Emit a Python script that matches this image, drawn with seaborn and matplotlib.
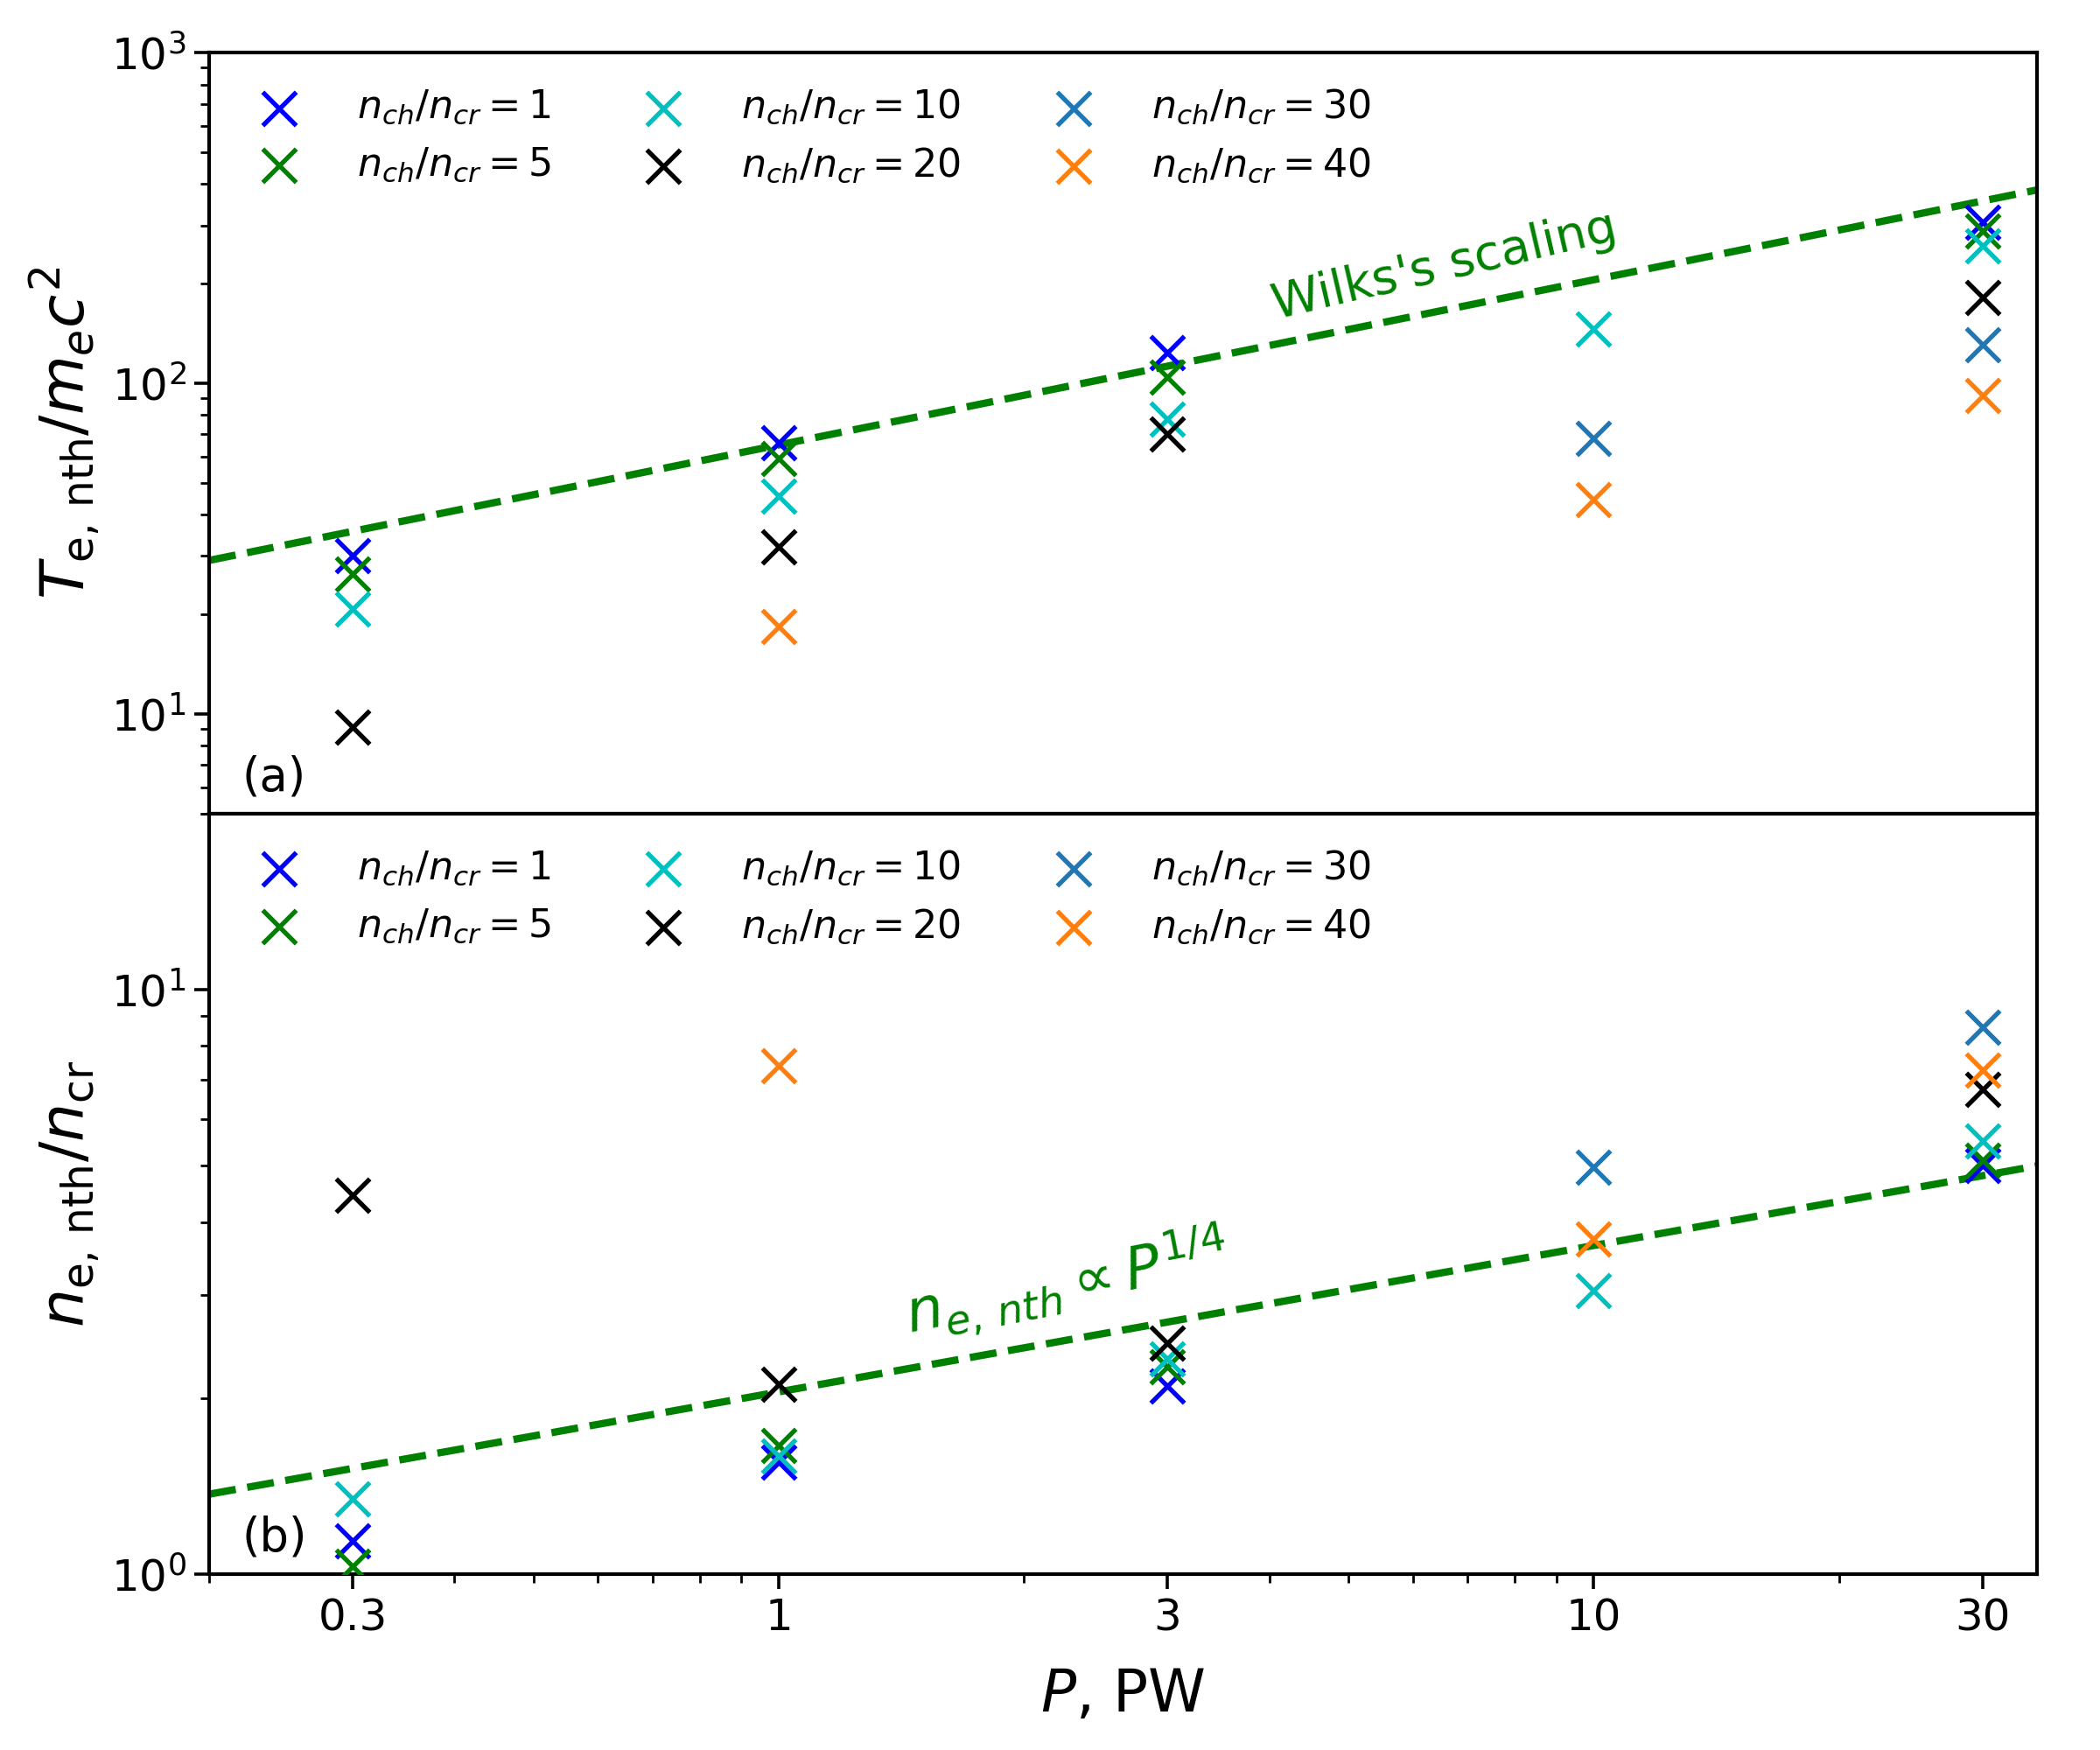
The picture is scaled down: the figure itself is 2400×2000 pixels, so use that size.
import numpy as np
import pandas as pd
import seaborn as sns
import matplotlib.pyplot as plt
from matplotlib.ticker import NullFormatter, FixedLocator, FixedFormatter

# power, PW
p_vals = [0.3, 1, 3, 10, 30]
density_labels = [1, 5, 10, 20, 30, 40]
colors = ["b", "g", "c", "k", "tab:blue", "tab:orange"]

# (P, value) pairs per n_ch/n_cr ; panel (a): T_e,nth / m_e c^2
temp_p = {
    1: [0.3, 1, 3, 30],
    5: [0.3, 1, 3, 30],
    10: [0.3, 1, 3, 10, 30],
    20: [0.3, 1, 3, 30],
    30: [10, 30],
    40: [1, 10, 30],
}
temp_v = {
    1: [30, 66, 124, 307],
    5: [26.5, 59, 104, 288],
    10: [20.8, 45.5, 78, 146, 260],
    20: [9.1, 32, 70, 182],
    30: [68, 131],
    40: [18.4, 44.5, 92],
}

# panel (b): n_e,nth / n_cr
dens_p = {
    1: [0.3, 1, 3, 30],
    5: [0.3, 1, 3, 30],
    10: [0.3, 1, 3, 10, 30],
    20: [0.3, 1, 3, 30],
    30: [10, 30],
    40: [1, 10, 30],
}
dens_v = {
    1: [1.14, 1.555, 2.1, 5.0],
    5: [1.03, 1.66, 2.26, 5.1],
    10: [1.345, 1.59, 2.33, 3.05, 5.5],
    20: [4.45, 2.11, 2.48, 6.75],
    30: [4.96, 8.6],
    40: [7.4, 3.74, 7.28],
}

# scaling lines (end points)
line_p = [0.2, 35]
wilks_t = [29.1, 384]
quarter_n = [1.37, 4.99]

sns.set_style("ticks")
plt.rcParams.update({
    "font.family": ["DejaVu Sans"],
    "mathtext.fontset": "dejavusans",
    "axes.edgecolor": "black",
    "axes.labelcolor": "black",
    "text.color": "black",
    "xtick.color": "black",
    "ytick.color": "black",
    "axes.linewidth": 1.5,
})

fig, (ax1, ax2) = plt.subplots(2, 1, sharex=True, figsize=(12, 10), dpi=200)
fig.subplots_adjust(left=0.0996, right=0.970, top=0.970, bottom=0.1005, hspace=0)

for ax, px, vals, line_v in [(ax1, temp_p, temp_v, wilks_t), (ax2, dens_p, dens_v, quarter_n)]:
    ax.set_xscale("log")
    ax.set_yscale("log")
    for n, c in zip(density_labels, colors):
        df = pd.DataFrame({"P": px[n], "v": vals[n]})
        sns.scatterplot(data=df, x="P", y="v", ax=ax, marker="x", color=c,
                        s=190, linewidth=1.9, label=r"$n_{ch}/n_{cr} = %d$" % n,
                        zorder=3)
    sns.lineplot(x=line_p, y=line_v, ax=ax, color="green", linestyle="--",
                 linewidth=3, zorder=2)
    ax.legend(loc="upper left", ncol=3, frameon=False, fontsize=16,
              handlelength=1.8, handletextpad=1.1, columnspacing=2.0,
              borderaxespad=0.5, scatterpoints=1)
    ax.tick_params(which="major", labelsize=18, length=6, width=1.3)
    ax.tick_params(which="minor", length=3.5, width=1.0)
    ax.yaxis.set_minor_formatter(NullFormatter())

ax1.set_ylim(5, 1000)
ax2.set_ylim(1, 20)
ax2.set_xlim(0.2, 35)
ax2.xaxis.set_major_locator(FixedLocator(p_vals))
ax2.xaxis.set_major_formatter(FixedFormatter(["0.3", "1", "3", "10", "30"]))
ax2.xaxis.set_minor_formatter(NullFormatter())

ax1.set_ylabel(r"$T_{\rm e,\,nth}/m_ec^2$", fontsize=25)
ax2.set_ylabel(r"$n_{\rm e,\,nth}/n_{\rm cr}$", fontsize=25)
ax2.set_xlabel(r"$P$, PW", fontsize=24, labelpad=11)
ax1.set_xlabel("")

ax1.text(4.1, 146, "Wilks's scaling", color="green", fontsize=20, rotation=13,
         rotation_mode="anchor", ha="left", va="bottom")
ax2.text(1.46, 2.42, r"$n_{e,\,nth} \propto P^{1/4}$", color="green", fontsize=24,
         rotation=11, rotation_mode="anchor", ha="left", va="bottom")

ax1.text(0.018, 0.03, "(a)", transform=ax1.transAxes, fontsize=19)
ax2.text(0.018, 0.03, "(b)", transform=ax2.transAxes, fontsize=19)

fig.savefig("out.png", dpi=200)
